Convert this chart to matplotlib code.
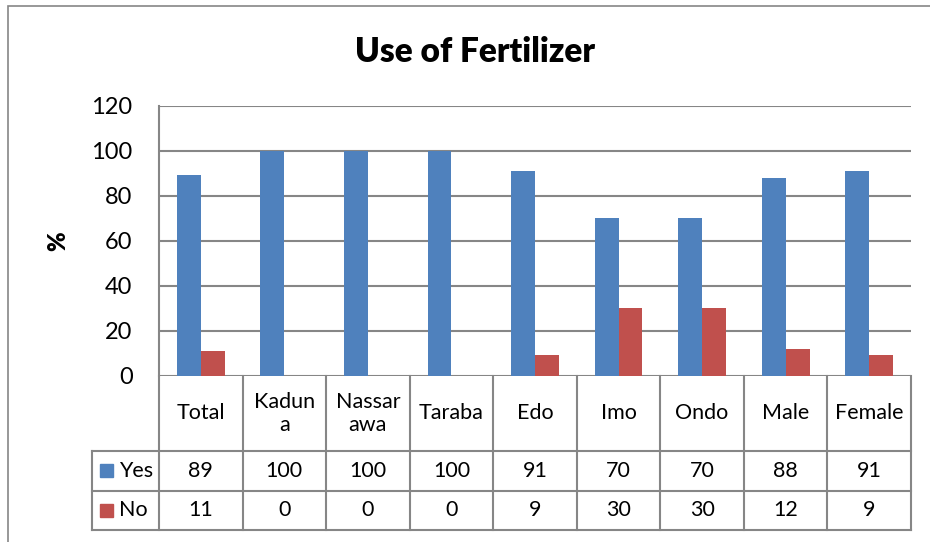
import matplotlib
matplotlib.use("Agg")
import matplotlib.pyplot as plt
import numpy as np

categories = ["Total", "Kadun\na", "Nassar\nawa", "Taraba", "Edo", "Imo", "Ondo", "Male", "Female"]
yes_vals = [89, 100, 100, 100, 91, 70, 70, 88, 91]
no_vals = [11, 0, 0, 0, 9, 30, 30, 12, 9]
series_names = ["Yes", "No"]
yticks = [0, 20, 40, 60, 80, 100, 120]

BLUE = "#4F81BD"
RED = "#C0504D"
GRID = "#868686"
FONT = "Lato"

W, H = 930, 542
fig = plt.figure(figsize=(W / 100, H / 100), dpi=100)

def rect(l, t, r, b):
    return [l / W, 1 - b / H, (r - l) / W, (b - t) / H]

# outer chart border
border = plt.Rectangle((8 / W, -0.1), 1.2, 1 - 6 / H + 0.1, transform=fig.transFigure,
                       fill=False, edgecolor=GRID, linewidth=1.2)
fig.add_artist(border)

ax = fig.add_axes(rect(159, 105.7, 911, 375.7))
n = len(categories)
x = np.arange(n) + 0.5
bw = 1 / 3.5
ax.bar(x - bw / 2, yes_vals, width=bw, color=BLUE, zorder=3)
ax.bar(x + bw / 2, no_vals, width=bw, color=RED, zorder=3)
ax.set_xlim(0, n)
ax.set_ylim(0, 120)
ax.set_yticks(yticks)
ax.set_yticklabels([str(t) for t in yticks], fontsize=17, family=FONT)
ax.tick_params(axis="y", length=0, pad=19)
ax.set_xticks([])
for s in ["top", "right", "bottom"]:
    ax.spines[s].set_visible(False)
ax.spines["left"].set_color(GRID)
ax.spines["left"].set_linewidth(1.5)
ax.yaxis.grid(True, color=GRID, linewidth=1.5, zorder=0)
ax.set_ylabel("%", fontsize=17, fontweight="heavy", family=FONT, labelpad=16)
fig.text(475 / W, 1 - 52 / H, "Use of Fertilizer", fontsize=24, fontweight="heavy",
         family=FONT, ha="center", va="center")

# data table
tb = fig.add_axes(rect(159, 375.7, 911, 530))
tb.set_xlim(0, n)
tb.set_ylim(0, 154.3)
tb.axis("off")
leg_left = -(159 - 92) / ((911 - 159) / n)
lc = dict(color=GRID, linewidth=1.5, clip_on=False)
top, hb, mid, bot = 154.3, 79.3, 39.3, 0
for i in range(n + 1):
    tb.plot([i, i], [bot, top], **lc)
tb.plot([leg_left, leg_left], [bot, hb], **lc)
for yy in (hb, mid, bot):
    tb.plot([leg_left, n], [yy, yy], **lc)
for i, c in enumerate(categories):
    tb.text(i + 0.5, (top + hb) / 2, c, ha="center", va="center", fontsize=15.5,
            family=FONT, linespacing=1.2)
    tb.text(i + 0.5, (hb + mid) / 2, str(yes_vals[i]), ha="center", va="center",
            fontsize=15.5, family=FONT)
    tb.text(i + 0.5, (mid + bot) / 2, str(no_vals[i]), ha="center", va="center",
            fontsize=15.5, family=FONT)
for name, col, yc in [(series_names[0], BLUE, (hb + mid) / 2), (series_names[1], RED, (mid + bot) / 2)]:
    tb.add_patch(plt.Rectangle((leg_left + 0.095, yc - 6.5), 0.155, 13, color=col, clip_on=False))
    tb.text(leg_left + 0.32, yc, name, ha="left", va="center", fontsize=15.5, family=FONT)

fig.savefig("out.png", dpi=100)
